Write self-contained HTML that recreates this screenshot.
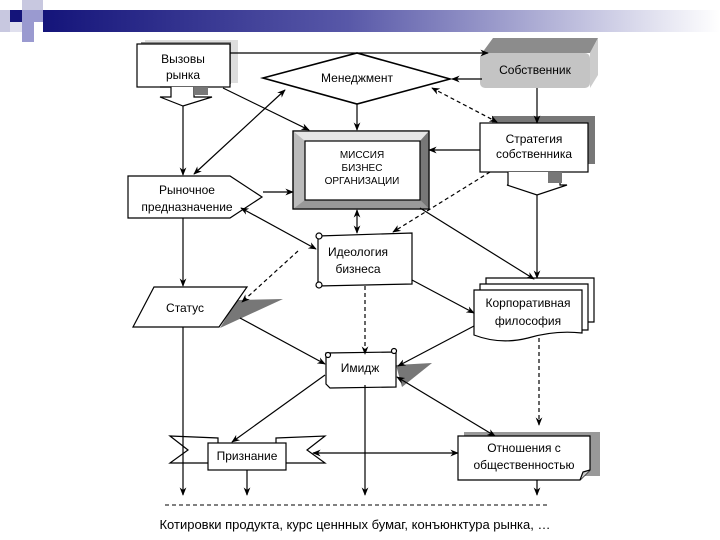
<!DOCTYPE html>
<html><head><meta charset="utf-8"><style>
body{margin:0;background:#fff}
svg{display:block;font-family:"Liberation Sans",sans-serif}
</style></head><body>
<svg width="720" height="540" viewBox="0 0 720 540" xmlns="http://www.w3.org/2000/svg">
<defs>
<linearGradient id="hb" x1="0" x2="1"><stop offset="0" stop-color="#14147a"/><stop offset="0.45" stop-color="#5858a8"/><stop offset="1" stop-color="#ffffff"/></linearGradient>
<linearGradient id="sb" x1="0" y1="0" x2="0" y2="1"><stop offset="0" stop-color="#999"/><stop offset="1" stop-color="#ccc"/></linearGradient>
<marker id="a" viewBox="0 0 10 10" refX="9" refY="5" markerWidth="7" markerHeight="7" orient="auto-start-reverse"><path d="M0,1 L10,5 L0,9 L3,5 z" fill="#000"/></marker>
</defs>
<!-- header -->
<rect x="43" y="10" width="677" height="22" fill="url(#hb)"/>
<rect x="0" y="10" width="10" height="22" fill="#c8c8e0"/>
<rect x="10" y="10" width="12" height="12" fill="#14147a"/>
<rect x="22" y="0" width="21" height="10" fill="#c8c8e0"/>
<rect x="22" y="10" width="21" height="12" fill="#9a9ad0"/>
<rect x="22" y="22" width="12" height="20" fill="#9a9ad0"/>
<rect x="10" y="22" width="12" height="10" fill="#e0e0ee"/>

<g stroke="#000" stroke-width="1.2" fill="none">
<!-- Вызовы -->
<rect x="145" y="40" width="93" height="43" fill="#ddd" stroke="none"/>
<rect x="141" y="42" width="90" height="42" fill="#888" stroke="none"/>
<rect x="137" y="44" width="93" height="43" fill="#fff"/>
<path d="M160,87 L171,87 L171,97 L160,97 L183,106 L212,97 L194,97 L194,87" fill="#fff"/>
<rect x="194" y="87" width="14" height="8" fill="#777" stroke="none"/>
<!-- diamond -->
<path d="M263,78 L357,53 L450,79 L357,104 Z" fill="#fff" stroke-width="1.6"/>
<!-- Собственник -->
<path d="M482,53 L493,38 L598,38 L590,53 Z" fill="#8c8c8c" stroke="none"/>
<path d="M590,53 L598,38 L598,75 L590,88 Z" fill="#ccc" stroke="none"/>
<rect x="480" y="53" width="110" height="35" rx="5" fill="#c4c4c4" stroke="none"/>
<!-- Стратегия -->
<rect x="492" y="116" width="103" height="48" fill="#777" stroke="none"/>
<rect x="480" y="123" width="108" height="49" fill="#fff"/>
<path d="M508,172 L508,185 L507,185 L537,195 L567,185 L560,185 L560,172" fill="#fff"/>
<rect x="548" y="172" width="14" height="11" fill="#777" stroke="none"/>
<!-- МИССИЯ -->
<rect x="293" y="131" width="136" height="78" fill="#bbb"/>
<path d="M293,131 L305,141 L420,141 L429,131 Z" fill="#e6e6e6" stroke="none"/>
<path d="M429,131 L420,141 L420,200 L429,209 Z" fill="#777" stroke="none"/>
<path d="M293,209 L305,200 L420,200 L429,209 Z" fill="#999" stroke="none"/>
<rect x="305" y="141" width="115" height="59" fill="#fff"/>
<rect x="293" y="131" width="136" height="78"/>
<!-- Рыночное -->
<path d="M128,176 L230,176 L262,197 L230,218 L128,218 Z" fill="#fff"/>
<!-- Идеология -->
<path d="M318,236 L412,233 L412,284 L318,286 Z" fill="#fff"/>
<circle cx="319" cy="236" r="3" fill="#fff"/><circle cx="319" cy="285" r="3" fill="#fff"/>
<!-- Статус -->
<path d="M237,300 L283,299 L220,328 Z" fill="#777" stroke="none"/>
<path d="M154,287 L247,287 L219,327 L133,327 Z" fill="#fff"/>
<!-- Корпоративная -->
<path d="M486,278 L594,278 L594,322 L486,322 Z" fill="#fff"/>
<path d="M480,284 L588,284 L588,330 L480,330 Z" fill="#fff"/>
<path d="M474,290 L582,290 L582,333 Q555,330 528,338 Q500,345 474,335 Z" fill="#fff"/>
<!-- Имидж -->
<path d="M396,365 L432,363 L402,387 Z" fill="#777" stroke="none"/>
<path d="M326,353 L396,352 L396,387 L330,388 L326,384 Z" fill="#fff"/>
<circle cx="328" cy="355" r="2.5" fill="#fff"/><circle cx="394" cy="351" r="2.5" fill="#fff"/>
<!-- Признание -->
<path d="M170,436 L218,438 L218,463 L170,463 L188,450 Z" fill="#fff"/>
<path d="M276,438 L325,436 L307,450 L325,463 L276,463 Z" fill="#fff"/>
<rect x="208" y="443" width="78" height="27" fill="#fff"/>
<!-- Отношения -->
<rect x="464" y="432" width="136" height="44" fill="#999" stroke="none"/>
<path d="M458,436 L590,436 L590,470 L580,480 L458,480 Z" fill="#fff"/>
<path d="M580,480 L583,472 L590,470" fill="#ccc"/>

<!-- connectors -->
<path d="M230,53 L488,53" marker-end="url(#a)"/>
<path d="M482,79 L452,79" marker-end="url(#a)"/>
<path d="M537,88 L537,123" marker-end="url(#a)"/>
<path d="M432,88 L497,122" stroke-dasharray="4,3" marker-start="url(#a)" marker-end="url(#a)"/>
<path d="M480,150 L429,150" marker-end="url(#a)"/>
<path d="M357,104 L357,130" marker-end="url(#a)"/>
<path d="M223,88 L309,130" marker-end="url(#a)"/>
<path d="M285,90 L194,174" marker-start="url(#a)" marker-end="url(#a)"/>
<path d="M263,192 L293,192" marker-end="url(#a)"/>
<path d="M183,106 L183,175" marker-end="url(#a)"/>
<path d="M183,218 L183,286" marker-end="url(#a)"/>
<path d="M241,208 L316,249" marker-start="url(#a)" marker-end="url(#a)"/>
<path d="M357,210 L357,233" marker-start="url(#a)" marker-end="url(#a)"/>
<path d="M490,172 L393,232" stroke-dasharray="4,3" marker-end="url(#a)"/>
<path d="M420,208 L534,279" marker-end="url(#a)"/>
<path d="M537,195 L537,278" marker-end="url(#a)"/>
<path d="M298,251 L242,302" stroke-dasharray="4,3" marker-end="url(#a)"/>
<path d="M412,280 L474,313" marker-end="url(#a)"/>
<path d="M240,318 L325,364" marker-end="url(#a)"/>
<path d="M365,286 L365,354" stroke-dasharray="4,3" marker-end="url(#a)"/>
<path d="M474,326 L398,366" marker-end="url(#a)"/>
<path d="M539,338 L539,425" stroke-dasharray="4,3" marker-end="url(#a)"/>
<path d="M397,377 L495,436" marker-start="url(#a)" marker-end="url(#a)"/>
<path d="M325,375 L232,442" marker-end="url(#a)"/>
<path d="M365,385 L365,495" marker-end="url(#a)"/>
<path d="M313,453 L458,453" marker-start="url(#a)" marker-end="url(#a)"/>
<path d="M183,327 L183,495" marker-end="url(#a)"/>
<path d="M247,470 L247,495" marker-end="url(#a)"/>
<path d="M537,480 L537,495" marker-end="url(#a)"/>
<path d="M165,505 L548,505" stroke-dasharray="4,3" stroke-width="1"/>
</g>

<g font-size="12" fill="#000" text-anchor="middle">
<text x="183" y="63">Вызовы</text><text x="183" y="79">рынка</text>
<text x="357" y="82">Менеджмент</text>
<text x="535" y="74">Собственник</text>
<text x="534" y="143">Стратегия</text><text x="534" y="158">собственника</text>
<text x="362" y="158" font-size="10">МИССИЯ</text><text x="362" y="171" font-size="10">БИЗНЕС</text><text x="362" y="184" font-size="10">ОРГАНИЗАЦИИ</text>
<text x="187" y="194">Рыночное</text><text x="187" y="211">предназначение</text>
<text x="358" y="256">Идеология</text><text x="358" y="273">бизнеса</text>
<text x="185" y="312">Статус</text>
<text x="528" y="307">Корпоративная</text><text x="528" y="325">философия</text>
<text x="360" y="372">Имидж</text>
<text x="247" y="460">Признание</text>
<text x="524" y="452">Отношения с</text><text x="524" y="469">общественностью</text>
<text x="355" y="529" font-size="13">Котировки продукта, курс ценнных бумаг, конъюнктура рынка, …</text>
</g>
</svg>
</body></html>
